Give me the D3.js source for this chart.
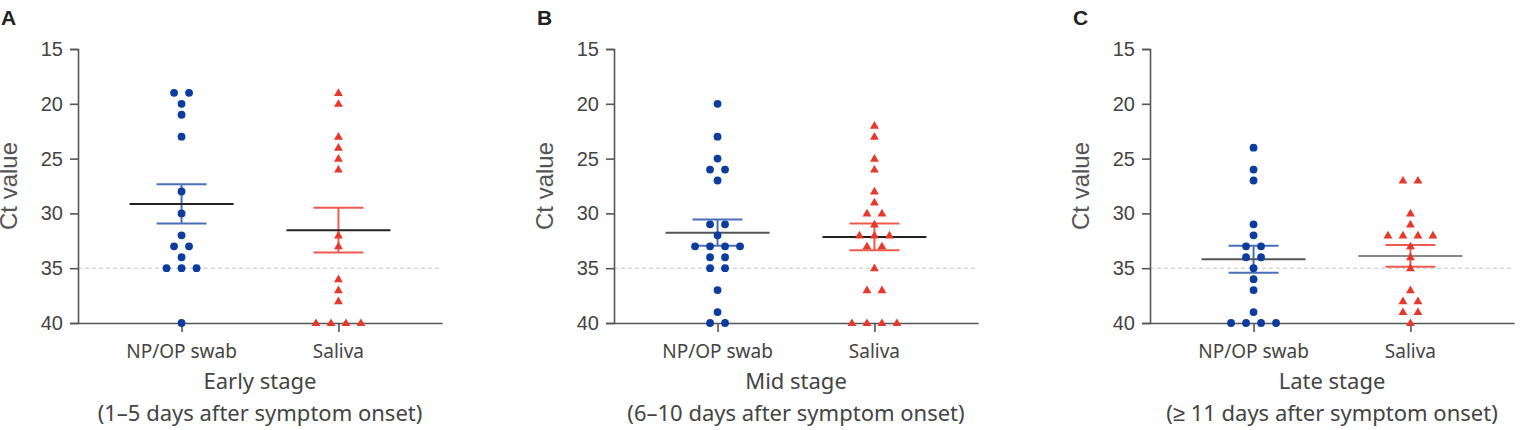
<!DOCTYPE html>
<html lang="en">
<head>
<meta charset="utf-8">
<title>Ct values by stage</title>
<script src="https://d3js.org/d3.v7.min.js"></script>
<style>
  body { margin: 0; background: #fff; }
  .tick-label { font-family: "Liberation Sans", Arial, sans-serif; font-size: 20px; fill: #444; }
  .y-title { font-family: "Liberation Sans", Arial, sans-serif; font-size: 24px; fill: #555; }
  .cat-label { font-family: "Noto Sans", sans-serif; font-size: 19px; fill: #444; }
  .stage-label { font-family: "Noto Sans", sans-serif; font-size: 22px; fill: #444; }
  .panel-letter { font-family: "Liberation Sans", Arial, sans-serif; font-size: 21px; font-weight: bold; fill: #222; }
</style>
</head>
<body>
<svg width="1520" height="430"></svg>
<script>
// Ct values
var categories = ["NP/OP swab", "Saliva"];
var yTicks = [15, 20, 25, 30, 35, 40];
var cutoff = 35;

var earlySwab   = [19, 19, 20, 21, 23, 28, 30, 32, 33, 33, 34, 35, 35, 35, 40];
var earlySaliva = [19, 20, 23, 24, 25, 26, 32, 33, 36, 37, 38, 40, 40, 40, 40];
var midSwab     = [20, 23, 25, 26, 26, 27, 31, 31, 32, 33, 33, 33, 33, 34, 34, 35, 35, 37, 39, 40, 40];
var midSaliva   = [22, 23, 25, 26, 28, 29, 30, 30, 31, 32, 32, 32, 33, 33, 35, 37, 37, 40, 40, 40, 40];
var lateSwab    = [24, 26, 27, 31, 32, 33, 33, 34, 34, 35, 36, 37, 39, 40, 40, 40, 40];
var lateSaliva  = [27, 27, 30, 31, 32, 32, 32, 32, 33, 34, 35, 37, 38, 38, 39, 39, 40];

var panelLetters = ["A", "B", "C"];
var stageNames = ["Early stage", "Mid stage", "Late stage"];
var stageRanges = ["(1\u20135 days after symptom onset)", "(6\u201310 days after symptom onset)", "(\u2265 11 days after symptom onset)"];

var panels = [
  { swab: earlySwab, saliva: earlySaliva, meanColors: ["#222", "#222"] },
  { swab: midSwab, saliva: midSaliva, meanColors: ["#555", "#222"] },
  { swab: lateSwab, saliva: lateSaliva, meanColors: ["#555", "#888"] }
];

var svg = d3.select("svg");
var panelLeft = 78, panelStep = 536;
var plotW = 364;
var plotTop = 49, plotBottom = 323;

var yScale = d3.scaleLinear().domain([15, 40]).range([plotTop, plotBottom]);
var xScale = d3.scalePoint().domain(categories).range([0, plotW]).padding(0.66);

var blue = "#0b3c9e", red = "#e8382c";
var barColors = ["#4a6fb8", "#ee5a50"];
var spread = 15;

panels.forEach(function(p, i) {
  var g = svg.append("g").attr("transform", "translate(" + (panelLeft + i * panelStep) + ",0)");

  g.append("text").attr("class", "panel-letter")
    .attr("x", -77).attr("y", 25).text(panelLetters[i]);

  // cutoff line
  g.append("line")
    .attr("x1", 0).attr("x2", plotW)
    .attr("y1", yScale(cutoff)).attr("y2", yScale(cutoff))
    .attr("stroke", "#c4c4c4").attr("stroke-width", 1)
    .attr("stroke-dasharray", "4,3");

  // y axis
  var yAxis = g.append("g")
    .call(d3.axisLeft(yScale).tickValues(yTicks).tickSize(8).tickPadding(7));
  yAxis.select(".domain").attr("stroke", "#555").attr("stroke-width", 1.6);
  yAxis.selectAll(".tick line").attr("stroke", "#555").attr("stroke-width", 1.6);
  yAxis.selectAll(".tick text").attr("class", "tick-label").attr("font-size", null).attr("font-family", null);
  yAxis.attr("font-size", null).attr("font-family", null);

  // x axis
  var xAxis = g.append("g").attr("transform", "translate(0," + plotBottom + ")")
    .call(d3.axisBottom(xScale).tickSize(9).tickSizeOuter(0).tickFormat(""));
  xAxis.select(".domain").attr("stroke", "#555").attr("stroke-width", 1.6);
  xAxis.selectAll(".tick line").attr("stroke", "#555").attr("stroke-width", 1.6);

  categories.forEach(function(c) {
    g.append("text").attr("class", "cat-label")
      .attr("x", xScale(c)).attr("y", 358)
      .attr("text-anchor", "middle").text(c);
  });

  g.append("text").attr("class", "y-title")
    .attr("transform", "translate(-61," + ((plotTop + plotBottom) / 2) + ") rotate(-90)")
    .attr("text-anchor", "middle").text("Ct value");

  g.append("text").attr("class", "stage-label")
    .attr("x", plotW / 2).attr("y", 389).attr("text-anchor", "middle").text(stageNames[i]);
  g.append("text").attr("class", "stage-label")
    .attr("x", plotW / 2).attr("y", 421).attr("text-anchor", "middle").text(stageRanges[i]);

  [p.swab, p.saliva].forEach(function(vals, k) {
    var cx = xScale(categories[k]);
    var mean = d3.mean(vals);
    var sem = d3.deviation(vals) / Math.sqrt(vals.length);

    // mean +/- SEM
    var eb = g.append("g").attr("stroke", barColors[k]).attr("stroke-width", 2);
    eb.append("line").attr("x1", cx).attr("x2", cx)
      .attr("y1", yScale(mean - sem)).attr("y2", yScale(mean + sem));
    [mean - sem, mean + sem].forEach(function(v) {
      eb.append("line").attr("x1", cx - 25).attr("x2", cx + 25)
        .attr("y1", yScale(v)).attr("y2", yScale(v));
    });
    g.append("line").attr("x1", cx - 52).attr("x2", cx + 52)
      .attr("y1", yScale(mean)).attr("y2", yScale(mean))
      .attr("stroke", p.meanColors[k]).attr("stroke-width", 2);

    // spread tied values side by side
    var groups = d3.group(vals, function(v) { return v; });
    var pts = [];
    groups.forEach(function(arr, v) {
      arr.forEach(function(_, j) {
        pts.push({ v: v, dx: (j - (arr.length - 1) / 2) * spread });
      });
    });

    if (k === 0) {
      g.selectAll(null).data(pts).enter().append("circle")
        .attr("cx", function(d) { return cx + d.dx; })
        .attr("cy", function(d) { return yScale(d.v); })
        .attr("r", 3.9).attr("fill", blue);
    } else {
      g.selectAll(null).data(pts).enter().append("path")
        .attr("d", d3.symbol().type(d3.symbolTriangle).size(34))
        .attr("transform", function(d) { return "translate(" + (cx + d.dx) + "," + (yScale(d.v) + 0.5) + ")"; })
        .attr("fill", red);
    }
  });
});
</script>
</body>
</html>
